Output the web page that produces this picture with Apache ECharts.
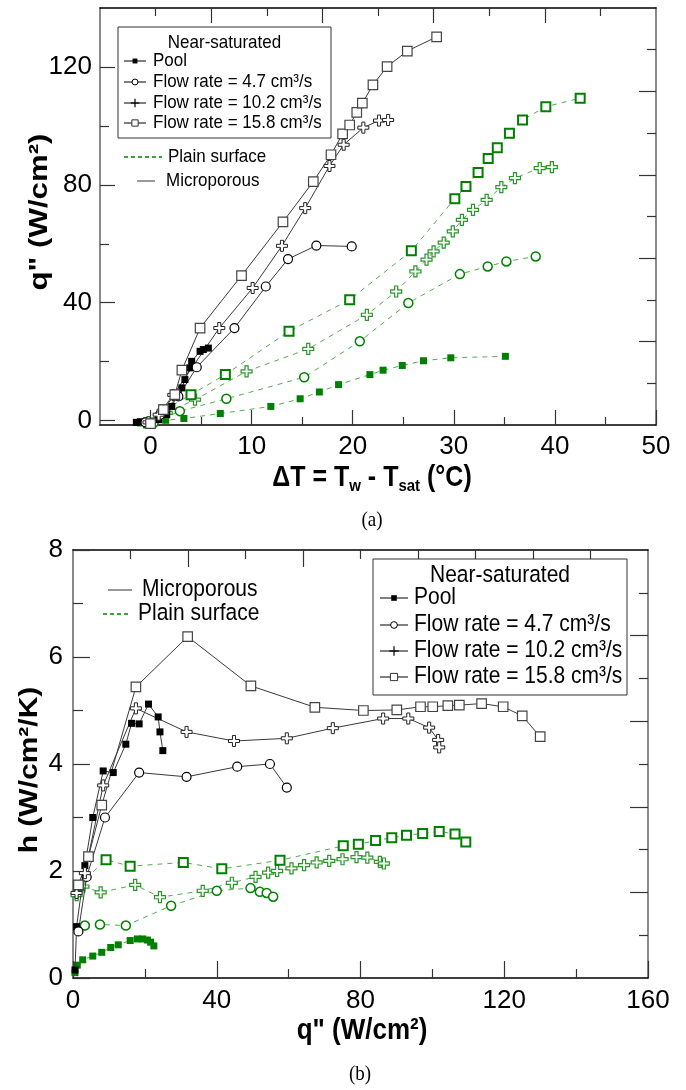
<!DOCTYPE html>
<html>
<head>
<meta charset="utf-8">
<script src="https://cdn.jsdelivr.net/npm/echarts@6/dist/echarts.min.js"></script>
<style>
html, body { margin: 0; padding: 0; background: #fff; }
#chart { width: 686px; height: 1090px; }
</style>
</head>
<body>
<div id="chart"></div>
<script>
// ---- (a) boiling curves: wall superheat ΔT (°C) vs heat flux q" (W/cm²) ----
const A_POOL_MICRO = [[-1.4,-0.6],[-1.0,-0.4],[0.8,0.3],[1.6,2.0],[2.1,4.8],[2.7,8.8],[3.1,11.1],[3.4,13.9],[3.9,17.9],[4.07,20.1],[4.9,23.5],[5.22,24.1],[5.72,24.6]];
const A_F47_MICRO = [[-0.5,-0.6],[0.94,2.0],[2.75,8.2],[4.57,18.1],[8.3,31.4],[11.4,45.5],[13.6,54.8],[16.4,59.4],[19.9,59.1]];
const A_F102_MICRO = [[-0.2,-0.6],[0.8,2.0],[2.25,8.7],[6.8,31.4],[10.1,45.0],[13.0,59.3],[15.3,72.1],[17.7,86.4],[19.1,93.6],[21.05,99.4],[22.6,101.8],[23.5,102.0]];
const A_F158_MICRO = [[0,-1.0],[1.27,3.7],[2.4,8.8],[3.1,17.1],[4.9,31.4],[9.0,49.2],[13.1,67.4],[16.1,81.1],[17.85,90.2],[19.0,97.3],[19.7,100.3],[20.4,104.6],[20.95,107.7],[22.0,113.9],[23.4,120.1],[25.4,125.4],[28.3,130.2]];
const A_POOL_PLAIN = [[-1.0,-0.8],[-0.2,-0.4],[1.5,0.1],[3.3,0.7],[6.9,2.4],[11.9,4.8],[14.8,7.4],[16.7,9.7],[18.6,12.2],[21.7,15.6],[23.0,17.1],[24.9,18.7],[27.0,20.3],[29.7,21.3],[35.1,21.8]];
const A_F47_PLAIN = [[0.3,-0.8],[2.9,3.2],[7.5,7.4],[15.2,14.7],[20.7,26.9],[25.5,39.9],[30.6,49.7],[33.35,52.3],[35.2,54.0],[38.1,55.7]];
const A_F102_PLAIN = [[-0.2,-0.6],[1.6,2.6],[4.4,7.1],[9.5,16.7],[15.6,24.3],[21.4,35.9],[24.3,43.8],[26.2,50.6],[27.3,54.6],[28.0,57.4],[29.0,60.4],[29.9,64.2],[30.8,68.1],[31.9,71.5],[33.25,74.9],[34.7,79.2],[36.05,82.3],[38.5,85.7],[39.7,86.0]];
const A_F158_PLAIN = [[-0.2,-0.8],[1.4,3.7],[4.0,8.8],[7.4,15.6],[13.7,30.3],[19.7,41.0],[25.8,57.6],[30.1,75.3],[31.2,79.4],[32.4,84.2],[33.4,88.9],[34.3,92.6],[35.5,97.5],[36.8,102.0],[39.1,106.5],[42.5,109.4]];

// ---- (b) heat transfer coefficient h (W/cm²/K) vs q" (W/cm²) ----
const B_POOL_MICRO = [[0.56,0.15],[1.0,0.96],[3.3,2.1],[5.5,3.0],[8.4,3.87],[11.2,3.84],[14.7,4.37],[16.3,4.76],[18.4,4.75],[21.0,5.12],[23.7,4.88],[24.2,4.6],[25.0,4.25]];
const B_F47_MICRO = [[1.5,0.87],[3.8,1.89],[8.9,3.0],[18.4,3.84],[31.6,3.76],[45.7,3.95],[54.8,4.0],[59.5,3.56]];
const B_F102_MICRO = [[1.0,1.59],[3.3,1.96],[8.4,3.6],[17.5,5.04],[31.6,4.6],[44.8,4.43],[59.5,4.48],[72.3,4.67],[86.3,4.85],[93.3,4.85],[99.1,4.68],[101.6,4.45],[101.9,4.31]];
const B_F158_MICRO = [[1.5,1.74],[4.3,2.27],[8.0,3.23],[17.5,5.44],[31.9,6.38],[49.5,5.46],[67.3,5.06],[80.8,5.0],[90.1,5.01],[96.7,5.07],[100.1,5.07],[104.3,5.09],[107.5,5.1],[113.7,5.13],[119.7,5.07],[125.0,4.9],[130.0,4.51]];
const B_POOL_PLAIN = [[0.55,0.1],[1.2,0.24],[2.7,0.34],[5.5,0.41],[8.0,0.48],[10.5,0.57],[12.6,0.62],[15.9,0.7],[17.9,0.73],[19.4,0.73],[20.7,0.71],[21.6,0.67],[22.5,0.6]];
const B_F47_PLAIN = [[3.3,0.98],[7.5,1.0],[14.7,0.98],[27.3,1.35],[40.0,1.63],[49.4,1.68],[52.0,1.61],[53.9,1.59],[55.7,1.52]];
const B_F102_PLAIN = [[1.0,1.55],[2.9,1.71],[7.7,1.6],[17.3,1.74],[24.2,1.51],[36.1,1.63],[44.2,1.78],[50.8,1.89],[54.3,1.97],[56.8,2.0],[60.8,2.05],[64.3,2.11],[67.8,2.16],[71.3,2.19],[75.0,2.22],[78.9,2.26],[81.9,2.25],[85.4,2.17],[86.5,2.14]];
const B_F158_PLAIN = [[1.5,1.73],[9.2,2.21],[15.9,2.09],[30.7,2.16],[41.4,2.04],[57.6,2.2],[75.2,2.47],[79.4,2.5],[84.2,2.57],[88.7,2.62],[92.8,2.67],[97.3,2.7],[101.9,2.74],[106.3,2.69],[109.3,2.54]];

// ---- tick values ----
const A_X_LABELS = [0, 10, 20, 30, 40, 50];
const A_X_MINOR = [5, 15, 25, 35, 45];
const A_Y_LABELS = [0, 40, 80, 120];
const A_Y_MINOR = [20, 60, 100];
const B_X_LABELS = [0, 40, 80, 120, 160];
const B_X_MINOR = [20, 60, 100, 140];
const B_Y_LABELS = [0, 2, 4, 6, 8];
const B_Y_MINOR = [1, 3, 5, 7];
const FRAME_MAJOR = [2, 4, 6, 8];
const FRAME_MINOR = [1, 3, 5, 7, 9];

const CONDITIONS = ['Pool', 'Flow rate = 4.7 cm³/s', 'Flow rate = 10.2 cm³/s', 'Flow rate = 15.8 cm³/s'];

const FONT = 'Liberation Sans, Arial, sans-serif';
const NARROW = 'Liberation Sans Narrow, Arial Narrow, Liberation Sans, sans-serif';
const GREEN = '#008000';
const GREEN_LINE = '#55aa55';
const PLUS = 'path://M3.6,0H6.4V3.6H10V6.4H6.4V10H3.6V6.4H0V3.6H3.6Z';

function microStyle(i) {
  return [
    { symbol: 'rect', symbolSize: 7, itemStyle: { color: '#000', borderColor: '#000', borderWidth: 0 } },
    { symbol: 'circle', symbolSize: 9, itemStyle: { color: '#fff', borderColor: '#000', borderWidth: 1.2 } },
    { symbol: PLUS, symbolSize: 11, itemStyle: { color: '#fff', borderColor: '#222', borderWidth: 1 } },
    { symbol: 'rect', symbolSize: 9.5, itemStyle: { color: '#fff', borderColor: '#444', borderWidth: 1.2 } }
  ][i];
}
function plainStyle(i) {
  return [
    { symbol: 'rect', symbolSize: 7, itemStyle: { color: GREEN, borderColor: GREEN, borderWidth: 0 } },
    { symbol: 'circle', symbolSize: 9, itemStyle: { color: '#fff', borderColor: GREEN, borderWidth: 1.5 } },
    { symbol: PLUS, symbolSize: 11, itemStyle: { color: '#fff', borderColor: '#2a962a', borderWidth: 1.2 } },
    { symbol: 'rect', symbolSize: 9, itemStyle: { color: '#fff', borderColor: GREEN, borderWidth: 2 } }
  ][i];
}

function makeSeries(data, i, plain, gridIdx) {
  const st = plain ? plainStyle(i) : microStyle(i);
  return Object.assign({
    type: 'line',
    name: CONDITIONS[i] + (plain ? ' (plain)' : ' (microporous)'),
    data: data,
    xAxisIndex: gridIdx * 4,
    yAxisIndex: gridIdx * 4,
    showSymbol: true,
    clip: true,
    z: plain ? 2 : 3,
    lineStyle: plain ? { color: GREEN_LINE, width: 1, type: [5, 5] } : { color: '#3a3a3a', width: 1 }
  }, st);
}

// several axes share one side so that major and minor ticks get different lengths
function ax(grid, pos, min, max, ticks, len, opts) {
  opts = opts || {};
  return {
    type: 'value', gridIndex: grid, position: pos, min: min, max: max,
    splitLine: { show: false },
    axisLine: { show: !!opts.line, onZero: false, lineStyle: opts.line || {} },
    axisTick: { show: true, inside: true, length: len, customValues: ticks, lineStyle: { color: '#333', width: 1.2 } },
    axisLabel: opts.labels ? { show: true, customValues: opts.labels, color: '#000', fontSize: 26, fontFamily: NARROW, margin: opts.margin || 10 } : { show: false }
  };
}

const BLACK_LINE = { color: '#000', width: 1.5 };
const GRAY_LINE = { color: '#8a8a8a', width: 2 };

const xAxes = [
  ax(0, 'bottom', -5, 50, A_X_LABELS, 15, { line: BLACK_LINE, labels: A_X_LABELS, margin: 9 }),
  ax(0, 'bottom', -5, 50, A_X_MINOR, 8),
  ax(0, 'top', 0, 10, FRAME_MAJOR, 15, { line: BLACK_LINE }),
  ax(0, 'top', 0, 10, FRAME_MINOR, 8),
  ax(1, 'bottom', 0, 160, B_X_LABELS, 17, { line: BLACK_LINE, labels: B_X_LABELS, margin: 10 }),
  ax(1, 'bottom', 0, 160, B_X_MINOR, 9),
  ax(1, 'top', 0, 10, FRAME_MAJOR, 17, { line: BLACK_LINE }),
  ax(1, 'top', 0, 10, FRAME_MINOR, 9)
];
const yAxes = [
  ax(0, 'left', -1.5, 140, A_Y_LABELS, 15, { line: GRAY_LINE, labels: A_Y_LABELS, margin: 8 }),
  ax(0, 'left', -1.5, 140, A_Y_MINOR, 9),
  ax(0, 'right', 0, 10, FRAME_MAJOR, 17, { line: GRAY_LINE }),
  ax(0, 'right', 0, 10, FRAME_MINOR, 9),
  ax(1, 'left', 0, 8, B_Y_LABELS, 17, { line: GRAY_LINE, labels: B_Y_LABELS, margin: 10 }),
  ax(1, 'left', 0, 8, B_Y_MINOR, 10),
  ax(1, 'right', 0, 10, FRAME_MAJOR, 18, { line: GRAY_LINE }),
  ax(1, 'right', 0, 10, FRAME_MINOR, 9)
];

const series = [
  makeSeries(A_POOL_PLAIN, 0, true, 0),
  makeSeries(A_F47_PLAIN, 1, true, 0),
  makeSeries(A_F102_PLAIN, 2, true, 0),
  makeSeries(A_F158_PLAIN, 3, true, 0),
  makeSeries(A_POOL_MICRO, 0, false, 0),
  makeSeries(A_F47_MICRO, 1, false, 0),
  makeSeries(A_F102_MICRO, 2, false, 0),
  makeSeries(A_F158_MICRO, 3, false, 0),
  makeSeries(B_POOL_PLAIN, 0, true, 1),
  makeSeries(B_F47_PLAIN, 1, true, 1),
  makeSeries(B_F102_PLAIN, 2, true, 1),
  makeSeries(B_F158_PLAIN, 3, true, 1),
  makeSeries(B_POOL_MICRO, 0, false, 1),
  makeSeries(B_F47_MICRO, 1, false, 1),
  makeSeries(B_F102_MICRO, 2, false, 1),
  makeSeries(B_F158_MICRO, 3, false, 1)
];

// ---- legends, axis titles and captions ----
const G = [];
function line(x1, y1, x2, y2, stroke, w, dash) {
  G.push({ type: 'line', silent: true, z: 10, shape: { x1, y1, x2, y2 }, style: { stroke, lineWidth: w, lineDash: dash || null } });
}
function text(x, y, str, size, opts) {
  opts = opts || {};
  G.push({
    type: 'text', silent: true, z: 10, x: x, y: y,
    rotation: opts.rotation || 0, scaleX: opts.sx || 1, scaleY: opts.sy || 1,
    style: {
      text: str, x: 0, y: 0, fill: '#000',
      font: (opts.bold ? 'bold ' : '') + size + 'px ' + (opts.family || FONT),
      align: opts.align || 'left', verticalAlign: 'middle', rich: opts.rich
    }
  });
}
function marker(kind, cx, cy, s) {
  if (kind === 0) {
    G.push({ type: 'rect', silent: true, z: 11, shape: { x: cx - s * 0.35, y: cy - s * 0.35, width: s * 0.7, height: s * 0.7 }, style: { fill: '#000' } });
  } else if (kind === 1) {
    G.push({ type: 'circle', silent: true, z: 11, shape: { cx, cy, r: s * 0.42 }, style: { fill: '#fff', stroke: '#000', lineWidth: 1 } });
  } else if (kind === 2) {
    line(cx - s * 0.6, cy, cx + s * 0.6, cy, '#000', 1.2);
    line(cx, cy - s * 0.6, cx, cy + s * 0.6, '#000', 1.2);
  } else {
    G.push({ type: 'rect', silent: true, z: 11, shape: { x: cx - s * 0.45, y: cy - s * 0.45, width: s * 0.9, height: s * 0.9 }, style: { fill: '#fff', stroke: '#333', lineWidth: 1 } });
  }
}
function conditionLegend(box, rows, lx0, lx1, tx, size, ms) {
  G.push({ type: 'rect', silent: true, z: 10, shape: box, style: { fill: '#fff', stroke: '#333', lineWidth: 1 } });
  text(box.x + box.width / 2, rows.title, 'Near-saturated', size, { align: 'center', sy: 1.12 });
  rows.y.forEach(function (y, i) {
    line(lx0, y, lx1, y, '#000', 1);
    marker(i, (lx0 + lx1) / 2, y, ms);
    text(tx, y, CONDITIONS[i], size, { sy: 1.12 });
  });
}

// (a) legends
conditionLegend({ x: 118, y: 27, width: 213, height: 111 }, { title: 43, y: [61, 82, 103, 123] }, 124, 146, 153, 17, 7);
line(124, 157, 162, 157, GREEN, 1.5, [4, 3]);
text(168, 157, 'Plain surface', 17, { sy: 1.12 });
line(137, 181, 155, 181, '#333', 1);
text(166, 181, 'Microporous', 17, { sy: 1.12 });

// (b) legends
conditionLegend({ x: 373, y: 559, width: 254, height: 136 }, { title: 576, y: [598, 625, 651, 677] }, 380, 408, 414, 21, 8);
line(108, 590, 132, 590, '#555', 1.2);
text(142, 590, 'Microporous', 21, { sy: 1.12 });
line(103, 614, 130, 614, GREEN, 1.5, [4, 3]);
text(138, 614, 'Plain surface', 21, { sy: 1.12 });

// axis titles
const subRich = {
  b: { fontFamily: FONT, fontWeight: 'bold', fontSize: 25 },
  s: { fontFamily: FONT, fontWeight: 'bold', fontSize: 15, padding: [15, 0, 0, 0] }
};
text(40, 212, 'q" (W/cm²)', 26, { bold: true, align: 'center', rotation: Math.PI / 2, sx: 1.2 });
text(372, 478, '{b|ΔT = T}{s|w}{b| - T}{s|sat}{b| (°C)}', 25, { bold: true, align: 'center', rich: subRich, sy: 1.15 });
text(372, 521, '(a)', 19, { align: 'center', family: 'Liberation Serif, Times New Roman, serif', sy: 1.1 });
text(30, 770, 'h (W/cm²/K)', 25, { bold: true, align: 'center', rotation: Math.PI / 2, sx: 1.2 });
text(362, 1031, 'q" (W/cm²)', 26, { bold: true, align: 'center', sy: 1.15 });
text(360, 1075, '(b)', 19, { align: 'center', family: 'Liberation Serif, Times New Roman, serif', sy: 1.1 });

const chart = echarts.init(document.getElementById('chart'), null, { renderer: 'canvas' });
chart.setOption({
  animation: false,
  backgroundColor: '#fff',
  textStyle: { fontFamily: FONT },
  grid: [
    { left: 100, right: 30, top: 8, bottom: 665, containLabel: false },
    { left: 73, right: 38, top: 550, bottom: 112, containLabel: false }
  ],
  xAxis: xAxes,
  yAxis: yAxes,
  series: series,
  graphic: G
});
</script>
</body>
</html>
